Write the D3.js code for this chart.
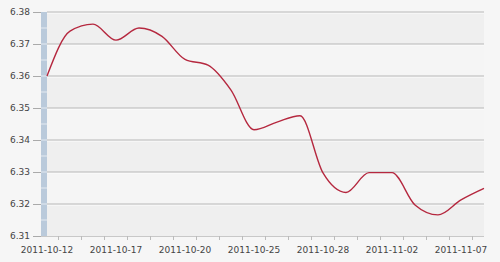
<!DOCTYPE html>
<html><head><meta charset="utf-8">
<script src="https://cdn.jsdelivr.net/npm/d3@7"></script>
<style>
html,body{margin:0;padding:0;background:#f6f6f6;}
svg{display:block;}
text{font-family:"DejaVu Sans",Verdana,sans-serif;font-size:9px;fill:#444;}
</style></head>
<body>
<svg id="c" width="500" height="262"></svg>
<script>
const dates = ["2011-10-12","2011-10-13","2011-10-14","2011-10-17","2011-10-18","2011-10-19","2011-10-20","2011-10-21","2011-10-24","2011-10-25","2011-10-26","2011-10-27","2011-10-28","2011-10-31","2011-11-01","2011-11-02","2011-11-03","2011-11-04","2011-11-07","2011-11-08"];
const rates = [6.3600,6.3740,6.3762,6.3712,6.3750,6.3724,6.3652,6.3634,6.3556,6.3432,6.3456,6.3476,6.3297,6.3236,6.3298,6.3298,6.3197,6.3166,6.3213,6.3249];
const yTicks = [6.31,6.32,6.33,6.34,6.35,6.36,6.37,6.38];
const xLabels = ["2011-10-12","2011-10-17","2011-10-20","2011-10-25","2011-10-28","2011-11-02","2011-11-07"];

const L=47, R=484, T=12, B=236;
const svg = d3.select("#c");
const x = d3.scalePoint().domain(dates).range([L,R]);
const y = d3.scaleLinear().domain([6.31,6.38]).range([B,T]);

// alternating bands
for (let i=0;i<yTicks.length-1;i++){
  const a=yTicks[i], b=yTicks[i+1];
  svg.append("rect").attr("x",L).attr("width",R-L)
    .attr("y",y(b)).attr("height",y(a)-y(b))
    .attr("fill", (yTicks.length-2-i)%2===0 ? "#efefef" : "#f5f5f5");
}
// gridlines
yTicks.forEach(v=>{
  if (v===6.31) return;
  svg.append("line").attr("x1",L).attr("x2",R).attr("y1",y(v)+1).attr("y2",y(v)+1).attr("stroke","#fdfdfd").attr("stroke-width",1);
  svg.append("line").attr("x1",L).attr("x2",R).attr("y1",y(v)).attr("y2",y(v)).attr("stroke","#b8b8b8").attr("stroke-width",1.2);
});
// left segmented bar
svg.append("rect").attr("x",41).attr("width",6).attr("y",T).attr("height",B-T).attr("fill","#bacadb");
d3.range(6.31,6.3801,0.005).forEach(v=>{
  if (Math.abs(v-6.31)<1e-6 || Math.abs(v-6.38)<1e-6) return;
  svg.append("line").attr("x1",41).attr("x2",47).attr("y1",y(v)).attr("y2",y(v)).attr("stroke","#e4eaf1").attr("stroke-width",1);
});

// y axis
const yAxis = d3.axisLeft(y).tickValues(yTicks).tickFormat(d3.format(".2f")).tickSize(8).tickPadding(3);
const ga = svg.append("g").attr("transform",`translate(41,0)`).call(yAxis);
ga.select(".domain").remove();
ga.selectAll(".tick line").attr("stroke","#aaa");
ga.selectAll("text").style("fill","#444");

// x axis
svg.append("line").attr("x1",41).attr("x2",R).attr("y1",B+0.5).attr("y2",B+0.5).attr("stroke","#c8c8c8");
const step = x.step();
dates.forEach((d,i)=>{
  if (i===dates.length-1) return;
  const xm = x(d)+step/2;
  svg.append("line").attr("x1",xm).attr("x2",xm).attr("y1",B).attr("y2",B+4).attr("stroke","#bbb");
});
svg.append("g").selectAll("text").data(xLabels).join("text")
  .attr("x",d=>x(d)).attr("y",253).attr("text-anchor","middle").text(d=>d);

// line
const line = d3.line().x((d,i)=>x(dates[i])).y(d=>y(d)).curve(d3.curveMonotoneX);
svg.append("path").datum(rates).attr("d",line).attr("fill","none")
  .attr("stroke","#b5283f").attr("stroke-width",1.4);
</script>
</body></html>
